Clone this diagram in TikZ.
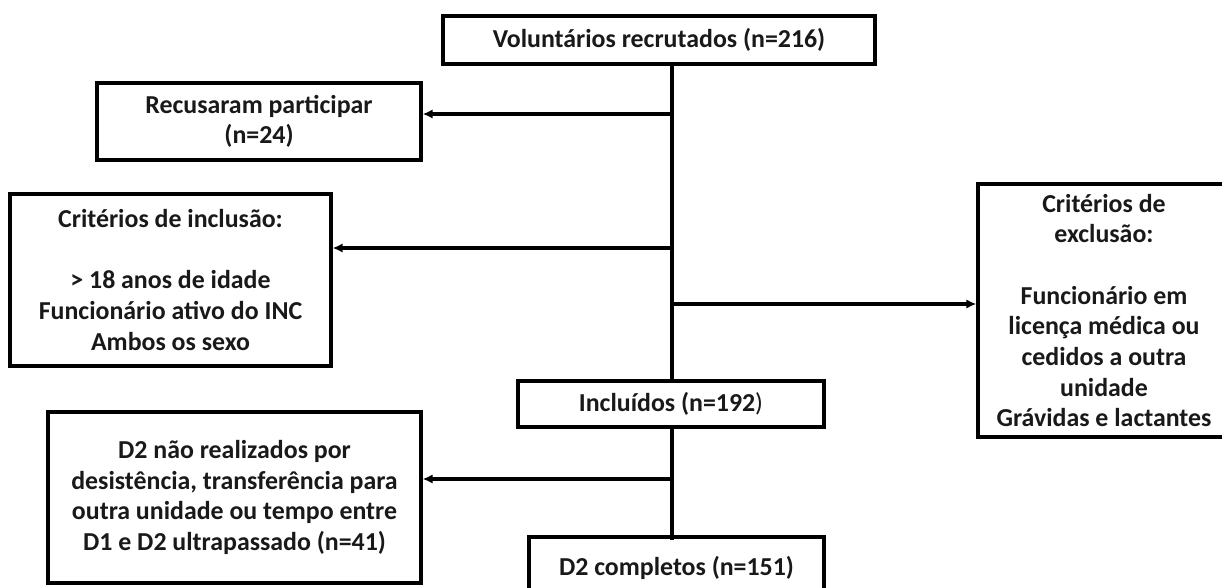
\documentclass[tikz,border=0pt]{standalone}
\usepackage{fontspec}
\setmainfont{Carlito}
\usetikzlibrary{arrows.meta}
\begin{document}
\begin{tikzpicture}[x=0.75pt,y=-0.75pt,
  box/.style={draw=black, line width=2.4pt, inner sep=0pt, align=center,
    font=\bfseries\fontsize{19.4}{23}\selectfont, text=black!90},
  link/.style={draw=black, line width=2.6pt},
  arr/.style={link, -{Latex[length=7.5pt,width=7pt]}}]
\useasboundingbox (0,0) rectangle (1222,588);
\clip (0,0) rectangle (1222,588);
\fill[white] (0,0) rectangle (1222,588);

\node[box, minimum width=432*0.75pt, minimum height=48*0.75pt] (top) at (659,40) {Voluntários recrutados (n=216)};
\node[box, minimum width=324*0.75pt, minimum height=77*0.75pt] (rec) at (259,121.5) {Recusaram participar\\(n=24)};
\node[box, minimum width=321*0.75pt, minimum height=172*0.75pt] (incl) at (170.5,280) {Critérios de inclusão:\\[23pt]> 18 anos de idade\\Funcionário ativo do INC\\Ambos os sexo};
\node[box, minimum width=252*0.75pt, minimum height=253*0.75pt] (excl) at (1104,310.5) {Critérios de\\exclusão:\\[23pt]Funcionário em\\licença médica ou\\cedidos a outra\\unidade\\Grávidas e lactantes};
\node[box, minimum width=306*0.75pt, minimum height=46*0.75pt] (inc) at (671,404) {Incluídos (n=192{\mdseries )}};
\node[box, minimum width=373*0.75pt, minimum height=171*0.75pt] (d2n) at (234.5,497.5) {D2 não realizados por\\desistência, transferência para\\outra unidade ou tempo entre\\D1 e D2 ultrapassado (n=41)};
\node[box, minimum width=295*0.75pt, minimum height=62*0.75pt] (d2c) at (676.5,568) {D2 completos (n=151)};

\coordinate (sp) at (672,0);
\coordinate (b1) at (672,114);
\coordinate (b2) at (672,248);
\coordinate (b3) at (672,304);
\coordinate (b4) at (672,479);

\draw[link] (top.south -| sp) -- (inc.north -| sp);
\draw[link] (inc.south -| sp) -- ([yshift=-5*0.75pt]d2c.north -| sp);
\draw[arr] (b1) -- (b1 -| rec.east);
\draw[arr] (b2) -- (b2 -| incl.east);
\draw[arr] (b3) -- (b3 -| excl.west);
\draw[arr] (b4) -- (b4 -| d2n.east);
\end{tikzpicture}
\end{document}
